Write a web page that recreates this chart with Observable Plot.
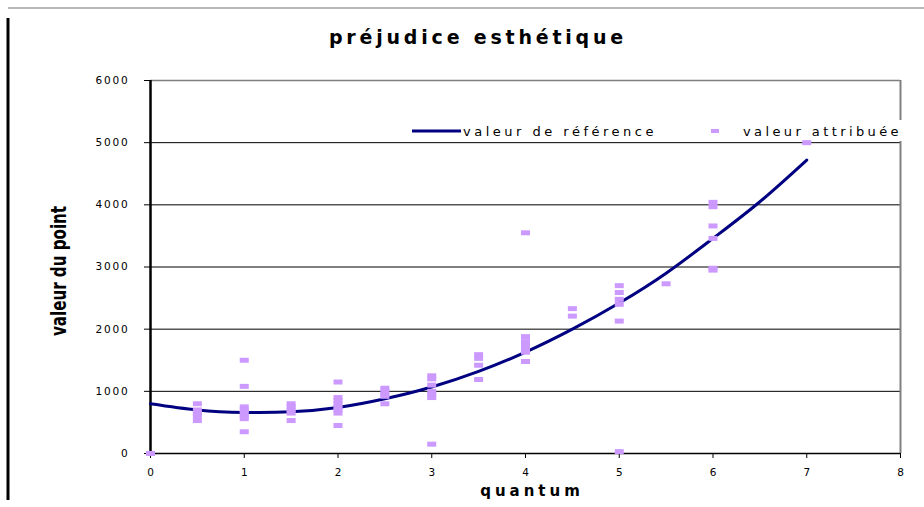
<!DOCTYPE html>
<html>
<head>
<meta charset="utf-8">
<script src="https://cdn.jsdelivr.net/npm/d3@7"></script>
<script src="https://cdn.jsdelivr.net/npm/@observablehq/plot@0.6"></script>
<style>
  body { margin: 0; background: #fff; }
  svg { display: block; }
</style>
</head>
<body>
<div id="chart"></div>
<script>
// Reference curve: value of the point by quantum
const refQuantum = [0, 0.5, 1, 1.5, 2, 2.5, 3, 3.5, 4, 4.5, 5, 5.5, 6, 6.5, 7];
const refValue   = [800, 700, 660, 670, 740, 880, 1070, 1320, 1630, 2000, 2420, 2900, 3460, 4050, 4720];

// Awarded values (one entry per decision)
const awardQuantum = [
  0,
  0.5, 0.5, 0.5, 0.5, 0.5,
  1, 1, 1, 1, 1, 1, 1, 1,
  1.5, 1.5, 1.5, 1.5, 1.5,
  2, 2, 2, 2, 2, 2, 2, 2,
  2.5, 2.5, 2.5, 2.5, 2.5,
  3, 3, 3, 3, 3, 3, 3,
  3.5, 3.5, 3.5, 3.5,
  4, 4, 4, 4, 4, 4, 4,
  4.5, 4.5,
  5, 5, 5, 5, 5, 5,
  5.5,
  6, 6, 6, 6, 6, 6,
  7
];
const awardValue = [
  0,
  800, 700, 650, 600, 530,
  1500, 1080, 750, 700, 650, 600, 560, 350,
  800, 750, 700, 650, 530,
  1150, 900, 850, 800, 750, 700, 650, 450,
  1050, 1000, 950, 920, 800,
  1250, 1200, 1100, 1000, 950, 900, 150,
  1590, 1530, 1420, 1190,
  3550, 1880, 1800, 1750, 1700, 1630, 1480,
  2330, 2210,
  2700, 2590, 2480, 2400, 2130, 30,
  2730,
  4040, 3970, 3660, 3460, 2980, 2950,
  5000
];

const xTicks = [0, 1, 2, 3, 4, 5, 6, 7, 8];
const yTicks = [0, 1000, 2000, 3000, 4000, 5000, 6000];

const refData = refQuantum.map((q, i) => ({quantum: q, value: refValue[i]}));
const awardData = awardQuantum.map((q, i) => ({quantum: q, value: awardValue[i]}));

const navy = "#000080";
const lilac = "#cc99ff";

// flat dash marker
const dash = { draw(ctx) { ctx.rect(-4.5, -2.5, 9, 5); } };

const svg = Plot.plot({
  width: 924,
  height: 507,
  marginLeft: 150,
  marginRight: 24,
  marginTop: 80,
  marginBottom: 54,
  style: { fontFamily: "DejaVu Sans", fontSize: "10px", color: "#000", background: "#fff" },
  x: { domain: [0, 8] },
  y: { domain: [0, 6000] },
  marks: [
    Plot.ruleY(yTicks.filter(v => v > 0 && v < 6000), { stroke: "#000", strokeWidth: 1 }),
    Plot.ruleY([6000], { stroke: "#808080", strokeWidth: 1.5 }),
    Plot.ruleX([8], { stroke: "#808080", strokeWidth: 2 }),
    Plot.axisY({ ticks: yTicks, tickSize: 6, tickPadding: 15, tickFormat: d3.format("d"), label: null, stroke: "#000" }),
    Plot.axisX({ ticks: xTicks, tickSize: 5, tickPadding: 10, tickFormat: d3.format("d"), label: null, stroke: "#000" }),
    Plot.ruleY([0], { stroke: "#000", strokeWidth: 1.5 }),
    Plot.ruleX([0], { stroke: "#000", strokeWidth: 2.5 }),
    Plot.line(refData, { x: "quantum", y: "value", stroke: navy, strokeWidth: 3, curve: "natural" }),
    Plot.dot(awardData, { x: "quantum", y: "value", symbol: dash, fill: lilac, stroke: "none", r: 4 })
  ]
});

const g = d3.select(svg);

// wide-set tick labels
g.selectAll("g[aria-label='y-axis tick label'] text").attr("font-size", 10.5).attr("letter-spacing", 1.8);
g.selectAll("g[aria-label='x-axis tick label'] text").attr("font-size", 10.5);

// outer chart frame
g.append("line").attr("x1", 8).attr("x2", 924).attr("y1", 8).attr("y2", 8)
  .attr("stroke", "#a0a0a0").attr("stroke-width", 1.5);
g.append("line").attr("x1", 8).attr("x2", 8).attr("y1", 18).attr("y2", 500)
  .attr("stroke", "#000").attr("stroke-width", 3);

// title
g.append("text").attr("x", 478).attr("y", 44).attr("text-anchor", "middle")
  .attr("font-family", "DejaVu Sans").attr("font-weight", "bold").attr("font-size", 19)
  .attr("letter-spacing", 3.8).text("préjudice esthétique");

// axis titles
g.append("text").attr("transform", "translate(66,271) rotate(-90) scale(0.8,1)").attr("text-anchor", "middle")
  .attr("font-family", "'Liberation Sans Narrow', 'DejaVu Sans Condensed', 'DejaVu Sans', sans-serif")
  .attr("font-weight", "bold").attr("font-size", 21).text("valeur du point");
g.append("text").attr("x", 532).attr("y", 496).attr("text-anchor", "middle")
  .attr("font-family", "DejaVu Sans").attr("font-weight", "bold").attr("font-size", 15)
  .attr("letter-spacing", 4).text("quantum");

// legend
const lg = g.append("g").attr("text-anchor", "start");
lg.append("rect").attr("x", 405).attr("y", 120).attr("width", 500).attr("height", 21).attr("fill", "#fff");
lg.append("line").attr("x1", 412).attr("x2", 461).attr("y1", 131).attr("y2", 131)
  .attr("stroke", navy).attr("stroke-width", 3);
lg.append("text").attr("x", 463).attr("y", 136).attr("font-family", "DejaVu Sans").attr("font-size", 13)
  .attr("letter-spacing", 3.5).text("valeur de référence");
lg.append("rect").attr("x", 711).attr("y", 129).attr("width", 8).attr("height", 4).attr("fill", lilac);
lg.append("text").attr("x", 743).attr("y", 136).attr("font-family", "DejaVu Sans").attr("font-size", 13)
  .attr("letter-spacing", 3.4).text("valeur attribuée");

// keep the award dots above the legend box
g.node().appendChild(g.select("g[aria-label='dot']").node());

document.getElementById("chart").appendChild(svg);
</script>
</body>
</html>
